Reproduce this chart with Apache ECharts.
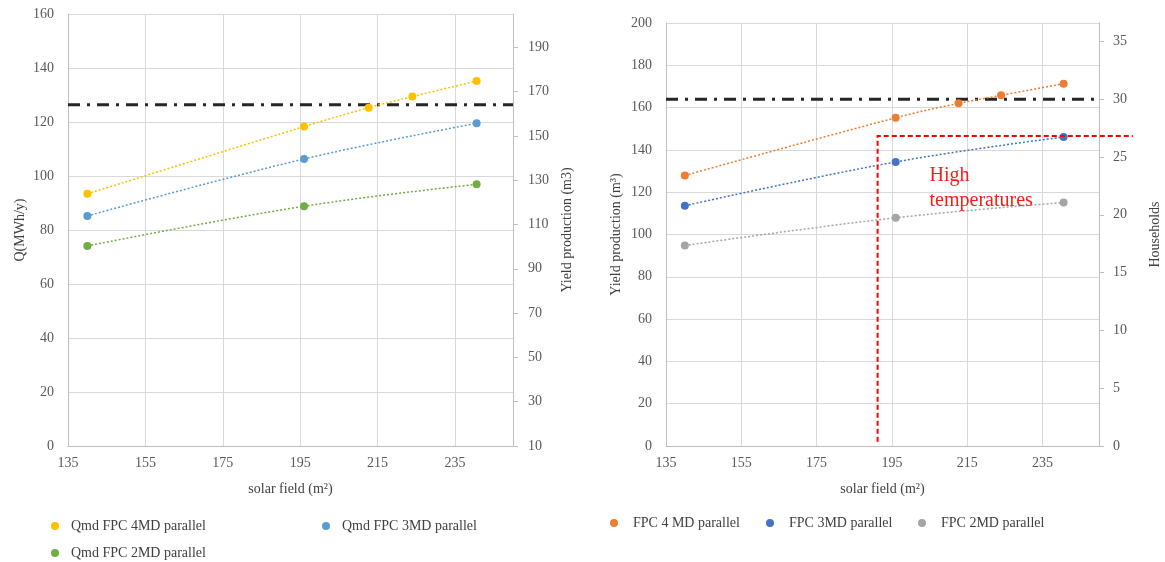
<!DOCTYPE html>
<html>
<head>
<meta charset="utf-8">
<script src="https://cdn.jsdelivr.net/npm/echarts@6/dist/echarts.min.js"></script>
<style>
  html, body { margin: 0; padding: 0; background: #ffffff; }
  #chart { width: 1165px; height: 562px; }
</style>
</head>
<body>
<div id="chart"></div>
<script>
// Solar field areas (m²)
const solarField5 = [140, 196, 212.7, 224, 240.6];
const solarField3 = [140, 196, 240.6];

// Left panel: Qmd (MWh/y)
const qmd4MD = [93.4, 118.3, 125.3, 129.4, 135.2];
const qmd3MD = [85.2, 106.3, 119.5];
const qmd2MD = [74.1, 88.8, 96.9];

// Right panel: yield production (m³)
const fpc4MD = [127.9, 155.2, 162.0, 165.8, 171.3];
const fpc3MD = [113.6, 134.3, 146.1];
const fpc2MD = [94.8, 107.9, 115.1];

// Yield target (m³), corresponds to 30 households
const yieldTarget = 164;
const householdsAtTarget = 30;

// Axis ranges
const xMin = 135, xMax = 250, xStep = 20;

// High-temperature region (corner in solar field / m³, right panel)
const hotZoneX = 191.2, hotZoneY = 146.6, hotZoneBottom = 2, hotZoneRightEnd = 259;
const hotZoneLabelAt = [205, 133.5];

const FONT = 'Liberation Serif';
const pairs = (xs, ys) => xs.map((x, i) => [x, ys[i]]);

const chart = echarts.init(document.getElementById('chart'), null, { renderer: 'canvas' });

const gridLine = { show: true, lineStyle: { color: '#d9d9d9', width: 1 } };
const axisLineStyle = { show: true, lineStyle: { color: '#bfbfbf', width: 1 } };
const tickLabel = { color: '#595959', fontFamily: FONT, fontSize: 14 };
const nameText = { color: '#404040', fontFamily: FONT, fontSize: 14 };

function xAxisFor(gridIndex) {
  return {
    type: 'value', gridIndex, min: xMin, max: xMax, interval: xStep,
    axisLine: axisLineStyle, axisTick: { show: false },
    axisLabel: Object.assign({ margin: 10, showMaxLabel: false }, tickLabel),
    splitLine: gridLine,
    name: 'solar field (m²)', nameLocation: 'middle', nameGap: 36, nameTextStyle: nameText
  };
}

function scatterLine(name, xs, ys, color, xi, yi) {
  return {
    name, type: 'line', xAxisIndex: xi, yAxisIndex: yi,
    data: pairs(xs, ys), smooth: 0.4,
    symbol: 'circle', symbolSize: 8, showSymbol: true,
    itemStyle: { color }, lineStyle: { color, width: 1.5, type: [2, 2] },
    z: 3
  };
}

function targetLine(xi, yi) {
  return {
    type: 'line', xAxisIndex: xi, yAxisIndex: yi, silent: true,
    data: [[xMin, yieldTarget], [xMax, yieldTarget]],
    symbol: 'none', z: 2,
    lineStyle: { color: '#262626', width: 3, type: [12, 7, 3, 7] }
  };
}

function legendItem(name, left, top, iconWidth) {
  return {
    data: [name], left, top, icon: 'circle',
    itemWidth: iconWidth, itemHeight: 8, itemGap: 0,
    textStyle: { color: '#404040', fontFamily: FONT, fontSize: 14 },
    selectedMode: false
  };
}

const option = {
  animation: false,
  backgroundColor: '#ffffff',
  grid: [
    { left: 68, right: 652, top: 14, bottom: 116 },
    { left: 666, right: 66, top: 23, bottom: 116 }
  ],
  xAxis: [xAxisFor(0), xAxisFor(1)],
  yAxis: [
    {
      type: 'value', gridIndex: 0, position: 'left', min: 0, max: 160, interval: 20,
      axisLine: axisLineStyle, axisTick: { show: false },
      axisLabel: Object.assign({ margin: 14 }, tickLabel), splitLine: gridLine,
      name: 'Q(MWh/y)', nameLocation: 'middle', nameGap: 41, nameRotate: 90, nameTextStyle: nameText
    },
    {
      type: 'value', gridIndex: 0, position: 'right', min: 10, max: 205, interval: 20,
      axisLine: axisLineStyle, axisTick: { show: true, length: 5, lineStyle: { color: '#bfbfbf' } },
      axisLabel: Object.assign({ margin: 15, showMaxLabel: false }, tickLabel), splitLine: { show: false },
      name: 'Yield production (m3)', nameLocation: 'middle', nameGap: 47, nameRotate: 90, nameTextStyle: nameText
    },
    {
      type: 'value', gridIndex: 1, position: 'left', min: 0, max: 200, interval: 20,
      axisLine: axisLineStyle, axisTick: { show: false },
      axisLabel: Object.assign({ margin: 14 }, tickLabel), splitLine: gridLine,
      name: 'Yield production (m³)', nameLocation: 'middle', nameGap: 43, nameRotate: 90, nameTextStyle: nameText
    },
    {
      type: 'value', gridIndex: 1, position: 'right', min: 0,
      max: 200 * householdsAtTarget / yieldTarget, interval: 5,
      axisLine: axisLineStyle, axisTick: { show: true, length: 5, lineStyle: { color: '#bfbfbf' } },
      axisLabel: Object.assign({ margin: 14, showMaxLabel: false }, tickLabel), splitLine: { show: false },
      name: 'Households', nameLocation: 'middle', nameGap: 49, nameRotate: 90, nameTextStyle: nameText
    }
  ],
  legend: [
    legendItem('Qmd FPC 4MD parallel', 46, 514, 22),
    legendItem('Qmd FPC 3MD parallel', 317, 514, 22),
    legendItem('Qmd FPC 2MD parallel', 46, 541, 22),
    legendItem('FPC 4 MD parallel', 605, 511, 28),
    legendItem('FPC 3MD parallel', 761, 511, 28),
    legendItem('FPC 2MD parallel', 913, 511, 28)
  ],
  series: [
    targetLine(0, 1),
    scatterLine('Qmd FPC 4MD parallel', solarField5, qmd4MD, '#FFC000', 0, 0),
    scatterLine('Qmd FPC 3MD parallel', solarField3, qmd3MD, '#5B9BD5', 0, 0),
    scatterLine('Qmd FPC 2MD parallel', solarField3, qmd2MD, '#70AD47', 0, 0),
    targetLine(1, 2),
    scatterLine('FPC 4 MD parallel', solarField5, fpc4MD, '#ED7D31', 1, 2),
    scatterLine('FPC 3MD parallel', solarField3, fpc3MD, '#4472C4', 1, 2),
    scatterLine('FPC 2MD parallel', solarField3, fpc2MD, '#A5A5A5', 1, 2)
  ]
};

chart.setOption(option);

// High-temperature region outline and label, placed in the right panel's data space
const toPx = (pt) => chart.convertToPixel({ xAxisIndex: 1, yAxisIndex: 2 }, pt);
const corner = toPx([hotZoneX, hotZoneY]);
const bottom = toPx([hotZoneX, hotZoneBottom]);
const rightEnd = toPx([hotZoneRightEnd, hotZoneY]);
const labelPos = toPx(hotZoneLabelAt);

chart.setOption({
  graphic: [
    {
      type: 'polyline', silent: true, z: 10,
      shape: { points: [bottom, corner, rightEnd] },
      style: { stroke: '#ff0000', lineWidth: 2, lineDash: [5, 3], fill: null }
    },
    {
      type: 'text', silent: true, z: 10,
      x: labelPos[0], y: labelPos[1],
      style: {
        text: 'High\ntemperatures', fill: '#ff1a1a',
        font: '20px "Liberation Serif"', lineHeight: 25,
        align: 'left', verticalAlign: 'top'
      }
    }
  ]
});
</script>
</body>
</html>
